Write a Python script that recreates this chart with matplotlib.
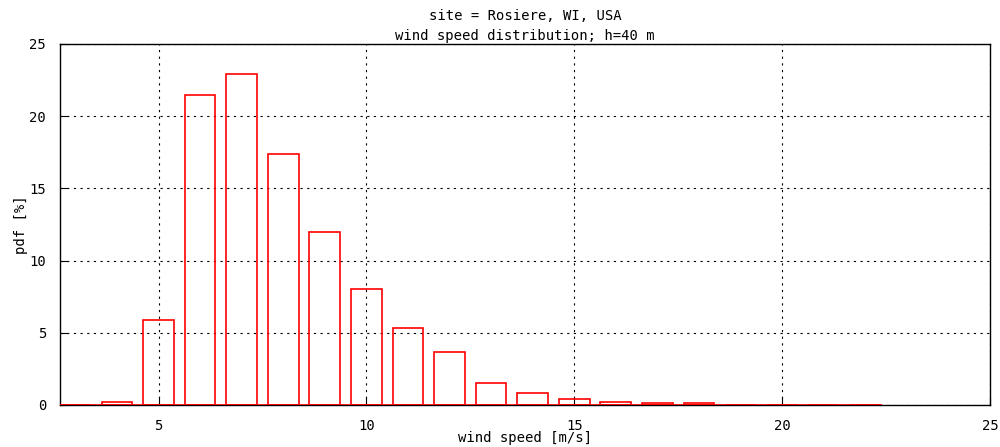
import matplotlib
matplotlib.use("Agg")
import matplotlib.pyplot as plt
import numpy as np

# wind speed bins [m/s] and pdf [%]
speed = [3, 4, 5, 6, 7, 8, 9, 10, 11, 12, 13, 14, 15, 16, 17, 18, 19, 20, 21, 22]
pdf = [0.0, 0.23, 5.9, 21.45, 22.9, 17.35, 11.95, 8.0, 5.3, 3.67, 1.55,
       0.8, 0.44, 0.23, 0.12, 0.12, 0.0, 0.0, 0.0, 0.0]
xticks = [5, 10, 15, 20, 25]
yticks = [0, 5, 10, 15, 20, 25]

plt.rcParams['font.family'] = ['DejaVu Sans Mono']
plt.rcParams['font.size'] = 9

fig = plt.figure(figsize=(10, 4.47), dpi=100)
ax = fig.add_axes([0.06, 0.094, 0.93, 0.8076])

w = 0.74
# baseline joining the boxes, like gnuplot "with boxes"
ax.plot([speed[0] - w / 2, speed[-1] + w / 2], [0, 0], color='red', lw=1.2, zorder=3)
ax.bar(speed, pdf, width=w, facecolor='none', edgecolor='red', lw=1.2, zorder=3)

ax.set_xlim(2.63, 25)
ax.set_ylim(0, 25)
ax.set_xticks(xticks)
ax.set_yticks(yticks)
ax.grid(True, color='black', linestyle=(0, (2, 4)), lw=0.8)
ax.tick_params(direction='in', length=6, color='black', labelsize=10, pad=10)
for s in ax.spines.values():
    s.set_linewidth(1.0)

ax.set_title("site = Rosiere, WI, USA\nwind speed distribution; h=40 m", fontsize=10, pad=3,
             linespacing=1.55)
ax.set_xlabel("wind speed [m/s]", fontsize=10, labelpad=-1)
ax.set_ylabel("pdf [%]", fontsize=10, labelpad=1)

fig.savefig("out.png", dpi=100)
